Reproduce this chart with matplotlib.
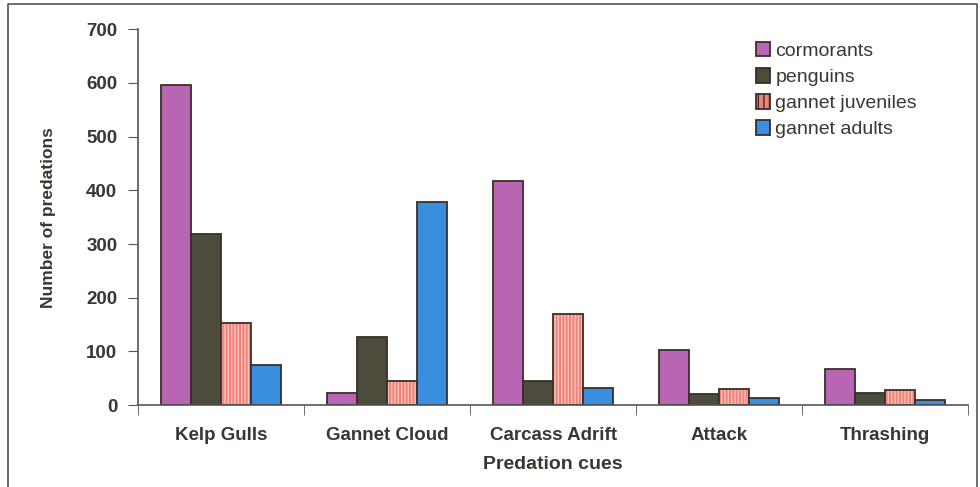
import numpy as np
import matplotlib.pyplot as plt
from matplotlib.lines import Line2D

cues = ["Kelp Gulls", "Gannet Cloud", "Carcass Adrift", "Attack", "Thrashing"]
groups = ["cormorants", "penguins", "gannet juveniles", "gannet adults"]
cormorants = [596, 22, 417, 102, 67]
penguins = [318, 127, 45, 20, 22]
gannet_juveniles = [153, 45, 170, 30, 28]
gannet_adults = [75, 378, 32, 13, 9]

series = [cormorants, penguins, gannet_juveniles, gannet_adults]
colors = ["#b865b4", "#4d4c3c", "#f2837c", "#3a8ee0"]
text_col = "#3b3631"
edge_col = "#3a2e28"

plt.rcParams['font.family'] = ['Liberation Sans', 'DejaVu Sans']

fig = plt.figure(figsize=(9.8, 4.87), dpi=100)
ax = fig.add_axes([0.141, 0.168, 0.847, 0.772])

x = np.arange(len(cues))
w = 0.18
handles = []
for i, (vals, col) in enumerate(zip(series, colors)):
    pos = x + (i - 1.5) * w
    if i == 2:
        # vertical stripes on the juvenile bars
        ax.bar(pos, vals, w, color=col, edgecolor="#f9c0b4", hatch="|||||", linewidth=0)
        ax.bar(pos, vals, w, fill=False, edgecolor=edge_col, linewidth=1.3)
    else:
        ax.bar(pos, vals, w, color=col, edgecolor=edge_col, linewidth=1.3)
    handles.append(plt.Rectangle((0, 0), 1, 1, facecolor=col, edgecolor=edge_col, linewidth=1.3,
                                 hatch="|||" if i == 2 else None))

ax.set_xlim(-0.5, len(cues) - 0.5)
ax.set_ylim(0, 700)
ax.set_yticks(range(0, 701, 100))
ax.set_xticks(x)
ax.set_xticklabels(cues)
ax.set_xticks(np.arange(-0.5, len(cues), 1.0), minor=True)
ax.tick_params(axis="x", which="major", length=0, pad=16, labelsize=13.5, labelcolor=text_col)
ax.tick_params(axis="x", which="minor", length=7, direction="out", color="#555")
ax.tick_params(axis="y", length=7, direction="out", color="#555", labelsize=13.5,
               labelcolor=text_col, pad=8)
for lab in ax.get_xticklabels() + ax.get_yticklabels():
    lab.set_fontweight("bold")

for s in ["top", "right"]:
    ax.spines[s].set_visible(False)
for s in ["left", "bottom"]:
    ax.spines[s].set_color("#555")
    ax.spines[s].set_linewidth(1.2)

ax.set_xlabel("Predation cues", fontsize=14, fontweight="bold", color=text_col, labelpad=8)
ax.set_ylabel("Number of predations", fontsize=12.5, fontweight="bold", color=text_col, labelpad=22)

ax.legend(handles, groups, loc="upper left", bbox_to_anchor=(0.723, 1.012), frameon=False,
          fontsize=14, handlelength=0.75, handleheight=0.75, handletextpad=0.25,
          labelspacing=0.42, labelcolor=text_col)

# outer frame
fig.add_artist(Line2D([8 / 980, 8 / 980, 977 / 980, 977 / 980],
                      [0, 1 - 4 / 487, 1 - 4 / 487, 0],
                      transform=fig.transFigure, color="#555", lw=1.2))

fig.savefig("out.png", dpi=100)
